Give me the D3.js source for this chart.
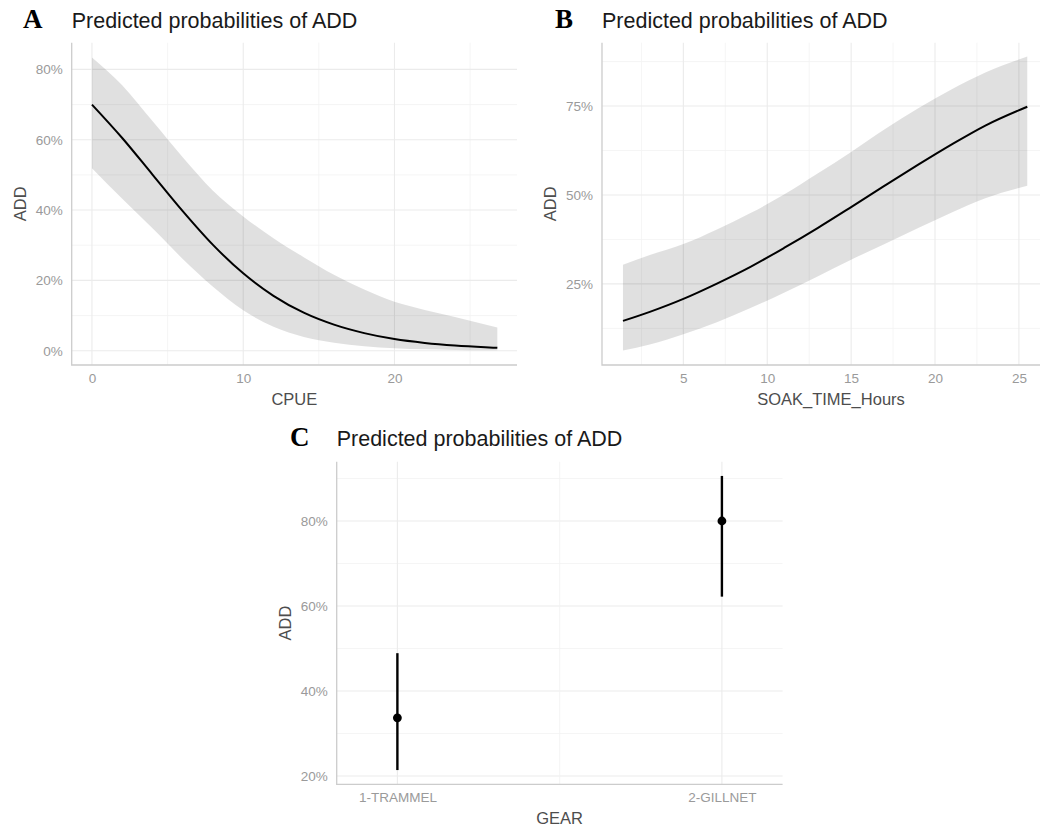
<!DOCTYPE html>
<html>
<head>
<meta charset="utf-8">
<script src="https://cdn.jsdelivr.net/npm/d3@7"></script>
<style>
  body { margin: 0; background: #fff; }
  text { font-family: "Liberation Sans", Arial, sans-serif; }
  .tick text { fill: #9a9a9a; font-size: 13.5px; }
  .axis-title { fill: #4d4d4d; font-size: 16.5px; }
  .plot-title { fill: #1a1a1a; font-size: 21.5px; }
  .panel-tag { font-family: "Liberation Serif", "Times New Roman", serif; font-weight: bold; font-size: 27px; fill: #000; }
</style>
</head>
<body>
<div id="chart"></div>
<script>
// --- datos ---
// Panel A: CPUE
const cpueX    = [0, 2, 4, 6, 8, 10, 12, 14, 16, 18, 20, 22, 24, 26, 26.8];
const cpuePred = [0.700, 0.605, 0.501, 0.397, 0.301, 0.220, 0.156, 0.108, 0.074, 0.050, 0.033, 0.022, 0.0145, 0.0096, 0.0081];
const cpueLow  = [0.519, 0.432, 0.348, 0.261, 0.182, 0.115, 0.068, 0.039, 0.0226, 0.0129, 0.0072, 0.0039, 0.0021, 0.0012, 0.0009];
const cpueHigh = [0.834, 0.755, 0.653, 0.550, 0.455, 0.382, 0.320, 0.266, 0.216, 0.174, 0.139, 0.116, 0.096, 0.0745, 0.066];
const cpueTicks = [0, 10, 20];
const cpueMinor = [5, 15, 25];
const pctTicksA = [0, 0.2, 0.4, 0.6, 0.8];
const pctMinorA = [0.1, 0.3, 0.5, 0.7];

// Panel B: SOAK_TIME_Hours
const soakX    = [1.4, 3, 5, 7, 9, 11, 13, 15, 17, 19, 21, 23, 25.5];
const soakPred = [0.146, 0.1715, 0.208, 0.251, 0.298, 0.351, 0.407, 0.466, 0.526, 0.585, 0.642, 0.695, 0.748];
const soakLow  = [0.0626, 0.0798, 0.1086, 0.1425, 0.182, 0.225, 0.271, 0.318, 0.362, 0.407, 0.451, 0.491, 0.526];
const soakHigh = [0.304, 0.331, 0.362, 0.403, 0.449, 0.501, 0.560, 0.621, 0.685, 0.744, 0.797, 0.844, 0.889];
const soakTicks = [5, 10, 15, 20, 25];
const soakMinor = [2.5, 7.5, 12.5, 17.5, 22.5, 27.5];
const pctTicksB = [0.25, 0.5, 0.75];
const pctMinorB = [0.125, 0.375, 0.625, 0.875];

// Panel C: GEAR
const gearCats = ["1-TRAMMEL", "2-GILLNET"];
const gearPred = [0.337, 0.800];
const gearLow  = [0.214, 0.622];
const gearHigh = [0.489, 0.906];
const pctTicksC = [0.2, 0.4, 0.6, 0.8];
const pctMinorC = [0.3, 0.5, 0.7, 0.9];

const W = 1040, H = 829;
const pct = d3.format(".0%");

const svg = d3.select("#chart").append("svg")
    .attr("width", W)
    .attr("height", H)
    .style("display", "block");

svg.append("rect").attr("width", W).attr("height", H).attr("fill", "#fff");

// dibuja rejilla, ejes y títulos comunes
function frame(p) {
  const g = svg.append("g");
  const [x0, x1] = p.xRange, [y1, y0] = p.yRange;   // y1 = abajo, y0 = arriba

  // rejilla menor
  g.selectAll(".hminor").data(p.yMinor).enter().append("line")
    .attr("x1", x0).attr("x2", x1)
    .attr("y1", d => p.y(d)).attr("y2", d => p.y(d))
    .attr("stroke", "#f2f2f2").attr("stroke-width", 0.8);
  g.selectAll(".vminor").data(p.xMinor).enter().append("line")
    .attr("x1", d => p.xPos(d)).attr("x2", d => p.xPos(d))
    .attr("y1", y0).attr("y2", y1)
    .attr("stroke", "#f2f2f2").attr("stroke-width", 0.8);
  // rejilla mayor
  g.selectAll(".hmajor").data(p.yTicks).enter().append("line")
    .attr("x1", x0).attr("x2", x1)
    .attr("y1", d => p.y(d)).attr("y2", d => p.y(d))
    .attr("stroke", "#ebebeb").attr("stroke-width", 1.1);
  g.selectAll(".vmajor").data(p.xTicks).enter().append("line")
    .attr("x1", d => p.xPos(d)).attr("x2", d => p.xPos(d))
    .attr("y1", y0).attr("y2", y1)
    .attr("stroke", "#ebebeb").attr("stroke-width", 1.1);

  // etiquetas de los ejes
  const ay = svg.append("g")
    .attr("transform", `translate(${x0},0)`)
    .call(d3.axisLeft(p.y).tickValues(p.yTicks).tickFormat(pct).tickSize(0).tickPadding(9));
  ay.select(".domain").remove();
  const ax = svg.append("g")
    .attr("transform", `translate(0,${y1})`)
    .call(d3.axisBottom(p.x).tickValues(p.xTicks).tickSize(0).tickPadding(8));
  ax.select(".domain").remove();
  svg.selectAll(".tick text").attr("font-family", null).attr("font-size", null);

  return g;
}

function axisLines(p) {
  const [x0, x1] = p.xRange, [y1, y0] = p.yRange;
  svg.append("path")
    .attr("d", `M${x0},${y0}V${y1}H${x1}`)
    .attr("fill", "none").attr("stroke", "#cccccc").attr("stroke-width", 1.3);
}

function titles(p, tag, tagX, titleY, xLabel) {
  const [x0, x1] = p.xRange, [y1, y0] = p.yRange;
  svg.append("text").attr("class", "panel-tag").attr("x", tagX).attr("y", titleY).text(tag);
  svg.append("text").attr("class", "plot-title").attr("x", x0).attr("y", titleY)
    .text("Predicted probabilities of ADD");
  svg.append("text").attr("class", "axis-title")
    .attr("transform", `translate(${x0 - 46},${(y0 + y1) / 2}) rotate(-90)`)
    .attr("text-anchor", "middle").text("ADD");
  svg.append("text").attr("class", "axis-title")
    .attr("x", (x0 + Math.min(x1, W + 20)) / 2).attr("y", y1 + 40)
    .attr("text-anchor", "middle").text(xLabel);
}

function ribbonPanel(p, xs, pred, low, high) {
  frame(p);
  const rows = xs.map((v, i) => ({x: v, m: pred[i], lo: low[i], hi: high[i]}));
  svg.append("path").datum(rows)
    .attr("d", d3.area().curve(d3.curveMonotoneX)
      .x(d => p.x(d.x)).y0(d => p.y(d.lo)).y1(d => p.y(d.hi)))
    .attr("fill", "#000").attr("fill-opacity", 0.12);
  svg.append("path").datum(rows)
    .attr("d", d3.line().curve(d3.curveMonotoneX).x(d => p.x(d.x)).y(d => p.y(d.m)))
    .attr("fill", "none").attr("stroke", "#000").attr("stroke-width", 2);
  axisLines(p);
}

// --- Panel A ---
const pA = {xRange: [71.7, 517], yRange: [365, 42.7]};
pA.x = d3.scaleLinear().domain([-1.34, 28.1]).range(pA.xRange);
pA.y = d3.scaleLinear().domain([-0.0407, 0.876]).range(pA.yRange);
pA.xPos = pA.x; pA.xTicks = cpueTicks; pA.xMinor = cpueMinor;
pA.yTicks = pctTicksA; pA.yMinor = pctMinorA;
ribbonPanel(pA, cpueX, cpuePred, cpueLow, cpueHigh);
titles(pA, "A", 23, 28, "CPUE");

// --- Panel B ---
const pB = {xRange: [602, 1060], yRange: [365, 42.7]};
pB.x = d3.scaleLinear().domain([0.15, 27.45]).range(pB.xRange);
pB.y = d3.scaleLinear().domain([0.022, 0.928]).range(pB.yRange);
pB.xPos = pB.x; pB.xTicks = soakTicks; pB.xMinor = soakMinor;
pB.yTicks = pctTicksB; pB.yMinor = pctMinorB;
ribbonPanel(pB, soakX, soakPred, soakLow, soakHigh);
titles(pB, "B", 555, 28, "SOAK_TIME_Hours");

// --- Panel C ---
const pC = {xRange: [336.7, 782.6], yRange: [784.3, 461.7]};
pC.x = d3.scalePoint().domain(gearCats).range(pC.xRange).padding(0.187);
pC.y = d3.scaleLinear().domain([0.1805, 0.9395]).range(pC.yRange);
pC.xPos = pC.x; pC.xTicks = gearCats; pC.xMinor = [];
pC.yTicks = pctTicksC; pC.yMinor = pctMinorC;
const gC = frame(pC);
// rejilla menor entre categorías
const midC = (pC.x(gearCats[0]) + pC.x(gearCats[1])) / 2;
gC.append("line").attr("x1", midC).attr("x2", midC)
  .attr("y1", pC.yRange[1]).attr("y2", pC.yRange[0])
  .attr("stroke", "#f2f2f2").attr("stroke-width", 0.8);

const gear = gearCats.map((c, i) => ({c, m: gearPred[i], lo: gearLow[i], hi: gearHigh[i]}));
svg.selectAll(".err").data(gear).enter().append("line")
  .attr("x1", d => pC.x(d.c)).attr("x2", d => pC.x(d.c))
  .attr("y1", d => pC.y(d.lo)).attr("y2", d => pC.y(d.hi))
  .attr("stroke", "#000").attr("stroke-width", 2.4);
svg.selectAll(".pt").data(gear).enter().append("circle")
  .attr("cx", d => pC.x(d.c)).attr("cy", d => pC.y(d.m))
  .attr("r", 4.4).attr("fill", "#000");
axisLines(pC);
titles(pC, "C", 290, 446, "GEAR");
</script>
</body>
</html>
